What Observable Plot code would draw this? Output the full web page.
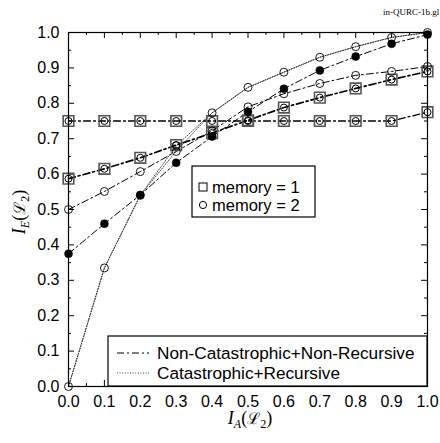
<!DOCTYPE html>
<html>
<head>
<meta charset="utf-8">
<script src="https://cdn.jsdelivr.net/npm/d3@7"></script>
<script src="https://cdn.jsdelivr.net/npm/@observablehq/plot@0.6"></script>
<style>
  html, body { margin: 0; padding: 0; background: white; }
  #chart svg { display: block; }
</style>
</head>
<body>
<div id="chart"></div>
<script>
// ---- data ----
const xs = [0, 0.1, 0.2, 0.3, 0.4, 0.5, 0.6, 0.7, 0.8, 0.9, 1.0];
// flat curve (memory=1 squares and memory=2 circles overlap), dash-dot
const flatY = [0.75, 0.75, 0.75, 0.75, 0.75, 0.75, 0.75, 0.75, 0.75, 0.75, 0.775];
// rising curve (squares with circles), dash-dot
const risingY = [0.587, 0.615, 0.646, 0.682, 0.716, 0.752, 0.788, 0.816, 0.842, 0.867, 0.89];
// open circles, dash-dot
const openDashY = [0.5, 0.551, 0.607, 0.664, 0.722, 0.79, 0.827, 0.856, 0.879, 0.89, 0.904];
// filled circles, dash-dot
const filledDashY = [0.375, 0.46, 0.541, 0.632, 0.706, 0.776, 0.841, 0.893, 0.932, 0.968, 0.994];
// dotted curves (Catastrophic+Recursive)
const dottedAY = [0.0, 0.335, 0.54, 0.68, 0.773, 0.845, 0.888, 0.93, 0.96, 0.986, 1.0];
const dottedBY = [0.0, 0.335, 0.54, 0.665, 0.773, 0.845, 0.888, 0.93, 0.96, 0.986, 1.0];
const majorTicks = [0, 0.1, 0.2, 0.3, 0.4, 0.5, 0.6, 0.7, 0.8, 0.9, 1.0];
const minorTicks = [0.05, 0.15, 0.25, 0.35, 0.45, 0.55, 0.65, 0.75, 0.85, 0.95];
const legendMemory = ["memory = 1", "memory = 2"];
const legendStyle = ["Non-Catastrophic+Non-Recursive", "Catastrophic+Recursive"];
const tag = "in-QURC-1b.gl";

const rows = ys => xs.map((x, i) => ({x, y: ys[i]}));
const flat = rows(flatY), rising = rows(risingY), openDash = rows(openDashY),
      filledDash = rows(filledDashY), dotA = rows(dottedAY), dotB = rows(dottedBY);

const W = 440, H = 443, mL = 68, mR = 13, mT = 32, mB = 57;
const pw = W - mL - mR, ph = H - mT - mB;
const dash = "7,3,2,3";
const dotDash = "1,1.6";
const tkMaj = 6, tkMin = 3;

const chart = Plot.plot({
  width: W, height: H,
  marginLeft: mL, marginRight: mR, marginTop: mT, marginBottom: mB,
  x: {domain: [0, 1]},
  y: {domain: [0, 1]},
  style: {fontFamily: "'Liberation Sans', Arial, sans-serif", fontSize: "16px", background: "white", color: "black"},
  marks: [
    // ticks (inward)
    Plot.ruleX(majorTicks, {x: d => d, y1: 0, y2: tkMaj / ph, stroke: "black"}),
    Plot.ruleX(minorTicks, {x: d => d, y1: 0, y2: tkMin / ph, stroke: "black"}),
    Plot.ruleX(majorTicks, {x: d => d, y1: 1, y2: 1 - tkMaj / ph, stroke: "black"}),
    Plot.ruleX(minorTicks, {x: d => d, y1: 1, y2: 1 - tkMin / ph, stroke: "black"}),
    Plot.ruleY(majorTicks, {y: d => d, x1: 0, x2: tkMaj / pw, stroke: "black"}),
    Plot.ruleY(minorTicks, {y: d => d, x1: 0, x2: tkMin / pw, stroke: "black"}),
    Plot.ruleY(majorTicks, {y: d => d, x1: 1, x2: 1 - tkMaj / pw, stroke: "black"}),
    Plot.ruleY(minorTicks, {y: d => d, x1: 1, x2: 1 - tkMin / pw, stroke: "black"}),
    Plot.axisX({ticks: majorTicks, tickFormat: d3.format(".1f"), tickSize: 0, tickPadding: 9, label: null, fontSize: 16}),
    Plot.axisY({ticks: majorTicks, tickFormat: d3.format(".1f"), tickSize: 0, tickPadding: 9, label: null, fontSize: 16}),
    // lines
    Plot.line(dotA, {x: "x", y: "y", stroke: "#222", strokeWidth: 0.8, strokeDasharray: dotDash}),
    Plot.line(dotB, {x: "x", y: "y", stroke: "#222", strokeWidth: 0.8, strokeDasharray: dotDash}),
    Plot.line(flat, {x: "x", y: "y", stroke: "black", strokeWidth: 1.3, strokeDasharray: dash}),
    Plot.line(rising, {x: "x", y: "y", stroke: "black", strokeWidth: 1.7, strokeDasharray: dash}),
    Plot.line(openDash, {x: "x", y: "y", stroke: "black", strokeWidth: 1, strokeDasharray: dash}),
    Plot.line(filledDash, {x: "x", y: "y", stroke: "black", strokeWidth: 1, strokeDasharray: dash}),
    // markers
    Plot.dot(flat, {x: "x", y: "y", symbol: "square", r: 6, stroke: "#555", strokeWidth: 1.6, fill: "none"}),
    Plot.dot(rising, {x: "x", y: "y", symbol: "square", r: 6, stroke: "#555", strokeWidth: 1.6, fill: "none"}),
    Plot.dot(flat, {x: "x", y: "y", r: 3.5, stroke: "black", strokeWidth: 1, fill: "none"}),
    Plot.dot(rising, {x: "x", y: "y", r: 3.5, stroke: "black", strokeWidth: 1, fill: "none"}),
    Plot.dot(openDash, {x: "x", y: "y", r: 4, stroke: "black", strokeWidth: 0.9, fill: "none"}),
    Plot.dot(filledDash, {x: "x", y: "y", r: 4, stroke: "black", strokeWidth: 0.5, fill: "black"}),
    Plot.dot(dotA, {x: "x", y: "y", r: 4, stroke: "black", strokeWidth: 0.9, fill: "none"}),
    Plot.frame({stroke: "black", strokeWidth: 1.2})
  ]
});

document.getElementById("chart").appendChild(chart);
const svg = d3.select(chart);

// tag at top right
svg.append("text").attr("x", 383).attr("y", 15).attr("text-anchor", "start")
  .attr("font-family", "'Liberation Serif', 'DejaVu Serif', serif").attr("font-size", 9)
  .attr("fill", "black").text(tag);

// axis labels with subscripts
function mathLabel(g, sub) {
  const t = g.append("text").attr("font-family", "'Liberation Serif', 'DejaVu Serif', serif")
    .attr("font-size", 18).attr("fill", "black").attr("text-anchor", "middle");
  t.append("tspan").attr("font-style", "italic").text("I");
  t.append("tspan").attr("font-style", "italic").attr("font-size", 12).attr("dy", 4).text(sub);
  t.append("tspan").attr("dy", -4).text("(");
  t.append("tspan").attr("font-family", "'DejaVu Serif', serif").attr("font-size", 16).text("\u2112");
  t.append("tspan").attr("font-size", 12).attr("dy", 4).text("2");
  t.append("tspan").attr("dy", -4).text(")");
  return t;
}
mathLabel(svg.append("g").attr("transform", "translate(250,424)"), "A");
mathLabel(svg.append("g").attr("transform", "translate(25,212) rotate(-90)"), "E");

// legend: memory
const lg1 = svg.append("g");
lg1.append("rect").attr("x", 192).attr("y", 166).attr("width", 123).attr("height", 51)
  .attr("fill", "white").attr("stroke", "black").attr("stroke-width", 1.2);
lg1.append("rect").attr("x", 199).attr("y", 183).attr("width", 8).attr("height", 8)
  .attr("fill", "none").attr("stroke", "black").attr("stroke-width", 1);
lg1.append("circle").attr("cx", 203).attr("cy", 205).attr("r", 3.6)
  .attr("fill", "none").attr("stroke", "black").attr("stroke-width", 1);
legendMemory.forEach((s, i) => {
  lg1.append("text").attr("x", 212).attr("y", 187 + i * 18.5).attr("dy", "0.36em")
    .attr("text-anchor", "start")
    .attr("font-family", "'Liberation Sans', Arial, sans-serif").attr("font-size", 16.5)
    .attr("fill", "black").text(s);
});

// legend: line styles
const lg2 = svg.append("g");
lg2.append("rect").attr("x", 108).attr("y", 336).attr("width", 319).attr("height", 50)
  .attr("fill", "white").attr("stroke", "black").attr("stroke-width", 1.2);
[dash, dotDash].forEach((da, i) => {
  lg2.append("line").attr("x1", 117).attr("x2", 149).attr("y1", 353 + i * 20).attr("y2", 353 + i * 20)
    .attr("stroke", "black").attr("stroke-width", i ? 0.8 : 1).attr("stroke-dasharray", da);
});
legendStyle.forEach((s, i) => {
  lg2.append("text").attr("x", 157).attr("y", 353 + i * 20).attr("dy", "0.36em")
    .attr("text-anchor", "start")
    .attr("font-family", "'Liberation Sans', Arial, sans-serif").attr("font-size", 17.2)
    .attr("fill", "black").text(s);
});
</script>
</body>
</html>
